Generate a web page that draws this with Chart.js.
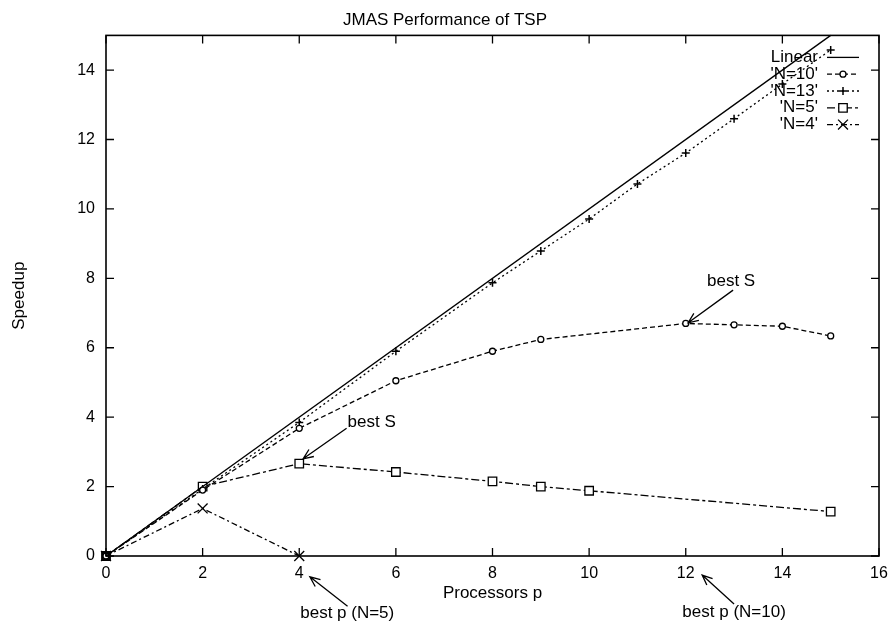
<!DOCTYPE html>
<html>
<head>
<meta charset="utf-8">
<title>JMAS Performance of TSP</title>
<script src="https://cdn.jsdelivr.net/npm/chart.js@4.4.1/dist/chart.umd.min.js"></script>
<style>
  html, body { margin: 0; padding: 0; background: #fff; }
  #wrap { width: 890px; height: 625px; }
</style>
</head>
<body>
<div id="wrap"><canvas id="tsp"></canvas></div>
<script>
const xTicks = [0, 2, 4, 6, 8, 10, 12, 14, 16];
const yTicks = [0, 2, 4, 6, 8, 10, 12, 14];

const linearP = [0, 15];
const linearS = [0, 15];
const n10P = [0, 2, 4, 6, 8, 9, 12, 13, 14, 15];
const n10S = [0, 1.9, 3.68, 5.05, 5.9, 6.24, 6.7, 6.66, 6.62, 6.34];
const n13P = [0, 2, 4, 6, 8, 9, 10, 11, 12, 13, 14, 15];
const n13S = [0, 1.93, 3.85, 5.9, 7.87, 8.79, 9.71, 10.72, 11.61, 12.6, 13.6, 14.58];
const n5P = [0, 2, 4, 6, 8, 9, 10, 15];
const n5S = [0, 2.0, 2.66, 2.42, 2.15, 2.0, 1.88, 1.28];
const n4P = [0, 2, 4];
const n4S = [0, 1.37, 0];

// labels with arrows, in data units
const notes = [
    { text: 'best S', tx: 12.44, ty: 7.92, from: [12.98, 7.66], to: [12.05, 6.72] },
    { text: 'best S', tx: 5.0, ty: 3.86, from: [4.98, 3.68], to: [4.08, 2.8] },
    { text: 'best p (N=5)', tx: 4.02, ty: -1.64, from: [5.0, -1.45], to: [4.22, -0.6] },
    { text: 'best p (N=10)', tx: 11.93, ty: -1.62, from: [13.0, -1.38], to: [12.34, -0.55] }
];

const FONT = '"Liberation Sans", Arial, sans-serif';
const pts = (xs, ys) => xs.map((x, i) => ({ x: x, y: ys[i] }));

const frame = {
    id: 'frame',
    afterDraw(chart) {
        const { ctx, chartArea: a, scales: { x, y } } = chart;
        ctx.save();
        ctx.strokeStyle = '#000';
        ctx.lineWidth = 1.6;
        ctx.strokeRect(a.left, a.top, a.width, a.height);
        ctx.lineWidth = 1.3;
        ctx.beginPath();
        xTicks.forEach(v => {
            const px = x.getPixelForValue(v);
            ctx.moveTo(px, a.bottom); ctx.lineTo(px, a.bottom - 8);
            ctx.moveTo(px, a.top); ctx.lineTo(px, a.top + 8);
        });
        yTicks.forEach(v => {
            const py = y.getPixelForValue(v);
            ctx.moveTo(a.left, py); ctx.lineTo(a.left + 8, py);
            ctx.moveTo(a.right, py); ctx.lineTo(a.right - 8, py);
        });
        ctx.stroke();
        ctx.restore();
    }
};

const keyBox = {
    id: 'keyBox',
    afterDraw(chart) {
        const { ctx, chartArea: a } = chart;
        ctx.save();
        ctx.font = '17px ' + FONT;
        ctx.textAlign = 'right';
        ctx.textBaseline = 'middle';
        chart.data.datasets.forEach((ds, i) => {
            const yy = a.top + 22 + i * 16.8;
            const x0 = a.right - 52, x1 = a.right - 20;
            ctx.fillStyle = '#000';
            ctx.fillText(ds.label, a.right - 61, yy);
            ctx.strokeStyle = '#000';
            ctx.lineWidth = ds.borderWidth;
            ctx.setLineDash(ds.borderDash || []);
            ctx.beginPath();
            ctx.moveTo(x0, yy); ctx.lineTo(x1, yy);
            ctx.stroke();
            ctx.setLineDash([]);
            if (ds.pointRadius > 0) {
                ctx.fillStyle = '#fff';
                ctx.lineWidth = ds.pointBorderWidth;
                Chart.helpers.drawPoint(ctx, {
                    pointStyle: ds.pointStyle, rotation: 0,
                    radius: ds.pointRadius, borderWidth: ds.pointBorderWidth
                }, (x0 + x1) / 2, yy);
            }
        });
        ctx.restore();
    }
};

const arrows = {
    id: 'arrows',
    afterDraw(chart) {
        const { ctx, scales: { x, y } } = chart;
        ctx.save();
        ctx.font = '17px ' + FONT;
        ctx.fillStyle = '#000';
        ctx.strokeStyle = '#000';
        ctx.textAlign = 'left';
        ctx.textBaseline = 'middle';
        ctx.lineWidth = 1.3;
        notes.forEach(n => {
            ctx.fillText(n.text, x.getPixelForValue(n.tx), y.getPixelForValue(n.ty));
            const fx = x.getPixelForValue(n.from[0]), fy = y.getPixelForValue(n.from[1]);
            const tx = x.getPixelForValue(n.to[0]), ty = y.getPixelForValue(n.to[1]);
            const ang = Math.atan2(ty - fy, tx - fx);
            ctx.beginPath();
            ctx.moveTo(fx, fy); ctx.lineTo(tx, ty);
            ctx.moveTo(tx - 11 * Math.cos(ang - 0.4), ty - 11 * Math.sin(ang - 0.4));
            ctx.lineTo(tx, ty);
            ctx.lineTo(tx - 11 * Math.cos(ang + 0.4), ty - 11 * Math.sin(ang + 0.4));
            ctx.stroke();
        });
        ctx.restore();
    }
};

const line = (label, xs, ys, extra) => Object.assign({
    label: label,
    data: pts(xs, ys),
    showLine: true,
    clip: false,
    borderColor: '#000',
    borderWidth: 1.3,
    pointBorderColor: '#000',
    pointBackgroundColor: '#fff',
    pointBorderWidth: 1.3,
    pointRadius: 0
}, extra);

new Chart(document.getElementById('tsp'), {
    type: 'scatter',
    data: {
        datasets: [
            line('Linear', linearP, linearS, {}),
            line("'N=10'", n10P, n10S, { borderDash: [5, 3], pointStyle: 'circle', pointRadius: 3 }),
            line("'N=13'", n13P, n13S, { borderDash: [2, 3], pointStyle: 'cross', pointRadius: 4, pointBorderWidth: 1.5 }),
            line("'N=5'", n5P, n5S, {
                borderDash: [8, 3, 3, 3], pointStyle: 'rect', pointRadius: 6,
                pointBackgroundColor: n5P.map(p => p === 0 ? '#000' : '#fff')
            }),
            line("'N=4'", n4P, n4S, { borderDash: [6, 3, 2, 3], pointStyle: 'crossRot', pointRadius: 7 })
        ]
    },
    options: {
        responsive: true,
        maintainAspectRatio: false,
        animation: false,
        events: [],
        layout: { padding: 0 },
        scales: {
            x: {
                type: 'linear',
                min: 0,
                max: 16,
                grid: { display: false, drawTicks: false },
                border: { display: false },
                afterBuildTicks: s => { s.ticks = xTicks.map(v => ({ value: v })); },
                afterFit: s => { s.height = 69; s.paddingRight = 11; s.paddingLeft = 0; },
                ticks: { color: '#000', font: { family: FONT, size: 16 }, padding: 8, maxRotation: 0 },
                title: { display: true, text: 'Processors p', color: '#000', font: { family: FONT, size: 17 }, padding: { top: 0, bottom: 21 } }
            },
            y: {
                min: 0,
                max: 15,
                grid: { display: false, drawTicks: false },
                border: { display: false },
                afterBuildTicks: s => { s.ticks = yTicks.map(v => ({ value: v })); },
                afterFit: s => { s.width = 106; },
                ticks: { color: '#000', font: { family: FONT, size: 16 }, padding: 11 },
                title: { display: true, text: 'Speedup', color: '#000', font: { family: FONT, size: 17 }, padding: { top: 9, bottom: 0 } }
            }
        },
        plugins: {
            legend: { display: false },
            tooltip: { enabled: false },
            title: {
                display: true,
                text: 'JMAS Performance of TSP',
                color: '#000',
                font: { family: FONT, size: 17, weight: 'normal' },
                padding: { top: 10, bottom: 5 }
            }
        }
    },
    plugins: [frame, keyBox, arrows]
});
</script>
</body>
</html>
